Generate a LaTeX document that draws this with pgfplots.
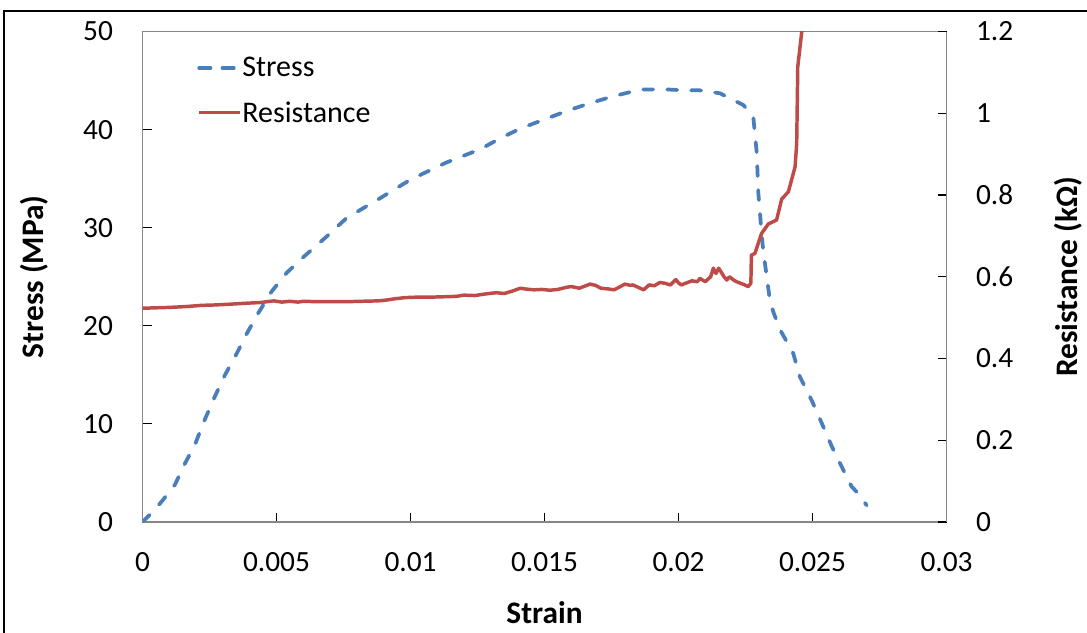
\documentclass[border=0pt]{standalone}
\usepackage{fontspec}
\setmainfont{Carlito}
\usepackage{pgfplots}
\pgfplotsset{compat=1.18}
\definecolor{sblue}{HTML}{4A7EBB}
\definecolor{rred}{HTML}{BE4B48}
\definecolor{axgray}{HTML}{868686}

\pgfplotstableread{
x y
0 0
0.00036 1.0
0.00072 2.1
0.00121 3.8
0.00159 6.0
0.00196 7.9
0.00227 10.1
0.0027 12.8
0.00308 15.0
0.00352 17.2
0.00389 19.2
0.00432 21.3
0.00482 23.5
0.00538 25.4
0.0060 27.0
0.00687 29.1
0.00762 31.0
0.00874 32.8
0.0100 34.9
0.0113 36.6
0.0126 38.0
0.01334 39.1
0.01409 40.1
0.01496 41.0
0.01583 41.9
0.0167 42.7
0.01757 43.4
0.01831 43.9
0.01869 44.1
0.0195 44.1
0.0203 44.0
0.0208 44.0
0.02155 43.7
0.02242 42.5
0.02279 41.3
0.02292 37.6
0.02298 33.5
0.0231 29.4
0.02316 27.7
0.02341 22.6
0.02354 21.4
0.02379 19.6
0.02428 17.2
0.02453 14.8
0.02497 12.4
0.02534 10.1
0.02572 7.7
0.02615 5.3
0.02646 3.6
0.02671 2.9
0.02702 1.7
}\stresstab

\pgfplotstableread{
x y
0 0.523
0.0005 0.524
0.0010 0.525
0.0016 0.527
0.0022 0.530
0.0027 0.531
0.0033 0.533
0.0038 0.535
0.0044 0.537
0.0049 0.541
0.0052 0.538
0.0055 0.540
0.0058 0.538
0.0060 0.540
0.0065 0.539
0.0070 0.539
0.0076 0.539
0.0082 0.540
0.0088 0.541
0.0091 0.543
0.0094 0.546
0.0098 0.549
0.0102 0.550
0.0107 0.550
0.0112 0.551
0.0117 0.552
0.0120 0.555
0.0124 0.554
0.0128 0.558
0.0132 0.561
0.0135 0.559
0.0138 0.565
0.0141 0.572
0.0143 0.570
0.0146 0.568
0.0149 0.569
0.0152 0.567
0.0155 0.569
0.0158 0.574
0.0160 0.576
0.0163 0.572
0.0167 0.582
0.0169 0.579
0.0171 0.572
0.0174 0.570
0.0176 0.568
0.0178 0.575
0.0180 0.582
0.0182 0.579
0.0183 0.580
0.0185 0.574
0.0187 0.568
0.0189 0.580
0.0191 0.578
0.0193 0.586
0.0195 0.584
0.0197 0.580
0.0199 0.593
0.0200 0.585
0.0201 0.580
0.0203 0.585
0.0205 0.590
0.0207 0.588
0.0208 0.596
0.0210 0.588
0.0212 0.600
0.0213 0.621
0.0214 0.608
0.0215 0.621
0.0217 0.600
0.0218 0.592
0.0219 0.600
0.0221 0.590
0.0222 0.587
0.0224 0.582
0.0226 0.576
0.0227 0.584
0.02272 0.653
0.02285 0.657
0.0231 0.706
0.02335 0.729
0.02366 0.739
0.02385 0.790
0.0241 0.808
0.02435 0.869
0.02441 0.926
0.02445 1.114
0.0246 1.2
0.0248 1.35
}\restab

\begin{document}
\begin{tikzpicture}
\useasboundingbox (0,0) rectangle (815.25pt,-474pt);
\draw[black, line width=1.5pt] (3pt,-480pt) -- (3pt,-8.6pt) -- (820pt,-8.6pt);
\pgfplotsset{
 common/.style={
  scale only axis, width=603pt, height=367.875pt,
  at={(106.875pt,-23.625pt)}, anchor=north west,
  xmin=0, xmax=0.03,
  scaled ticks=false,
  tick align=inside, major tick length=6.75pt,
  tick style={black, line width=0.8pt},
  axis line style={axgray, line width=1.1pt},
  ticklabel style={font=\fontsize{22}{26}\selectfont, inner sep=0pt},
  label style={font=\bfseries\fontsize{23.5}{28}\selectfont},
 }
}
\begin{axis}[common,
  ymin=0, ymax=50,
  xtick={0,0.005,0.01,0.015,0.02,0.025,0.03},
  xticklabels={0,0.005,0.01,0.015,0.02,0.025,0.03},
  ytick={0,10,20,30,40,50},
  yticklabels={0,10,20,30,40,50},
  xtick pos=bottom, ytick pos=left,
  xticklabel style={anchor=base, yshift=-36.75pt},
  yticklabel style={anchor=east, xshift=-22pt},
  xlabel={Strain}, ylabel={Stress (MPa)},
  xlabel style={at={(axis description cs:0.5,-0.1855)}, anchor=center},
  ylabel style={at={(axis description cs:-0.135,0.5)}, anchor=center},
]
\addplot[sblue, line width=2.8pt, dash pattern=on 7.5pt off 10.5pt, line cap=round, line join=round] table[x=x,y=y] {\stresstab};
\end{axis}
\begin{axis}[common,
  ymin=0, ymax=1.2,
  axis x line=none, axis y line*=right,
  ytick={0,0.2,0.4,0.6,0.8,1,1.2},
  yticklabels={0,0.2,0.4,0.6,0.8,1,1.2},
  yticklabel style={anchor=west, xshift=22pt},
  ylabel={Resistance (kΩ)},
  ylabel style={at={(axis description cs:1.151,0.5)}, anchor=center},
  legend style={draw=none, fill=none, at={(axis description cs:0.0678,0.948)}, anchor=north west,
    font=\fontsize{22.5}{27}\selectfont, inner sep=0pt, row sep=17pt,
    nodes={inner sep=0pt},
    /tikz/every even column/.style={column sep=6pt}},
  legend cell align=left,
  legend image code/.code={\draw[#1] (0pt,0pt) -- (31pt,0pt);},
]
\addlegendimage{sblue, line width=2.8pt, dash pattern=on 8.5pt off 9pt, line cap=round}
\addlegendentry{Stress}
\addplot[rred, line width=2.6pt, line join=round] table[x=x,y=y] {\restab};
\addlegendentry{Resistance}
\end{axis}
\end{tikzpicture}
\end{document}
